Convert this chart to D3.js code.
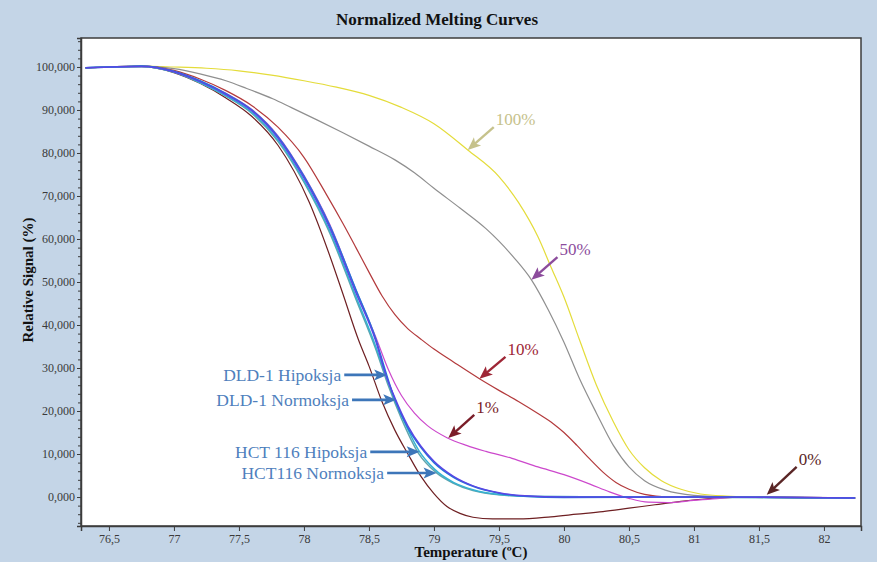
<!DOCTYPE html>
<html>
<head>
<meta charset="utf-8">
<script src="https://cdn.jsdelivr.net/npm/d3@7"></script>
<style>
  html, body { margin: 0; padding: 0; background: #c4d5e7; }
  svg { display: block; font-family: 'Liberation Serif', 'Times New Roman', serif; }
  .tick text { fill: #3a3a3a; font-size: 12px; }
  .axis path, .axis line { stroke: #3c3c3c; }
</style>
</head>
<body>
<svg id="chart" width="877" height="562"></svg>
<script>
// tick labels
const xTicks = [76.5, 77, 77.5, 78, 78.5, 79, 79.5, 80, 80.5, 81, 81.5, 82]
const yTicks = [0, 10, 20, 30, 40, 50, 60, 70, 80, 90, 100]

// series: [temperature, relative signal]
const curve100 = [[76.32,99.8],[76.5,100],[76.75,100.2],[77,100],[77.25,99.7],[77.5,99.1],[77.75,98.1],[78,96.8],[78.25,95.3],[78.5,93.4],[78.75,90.6],[79,86.8],[79.26,80.7],[79.5,74.5],[79.65,68.5],[79.8,60.5],[79.9,53.5],[80,46.5],[80.12,36.5],[80.25,26],[80.38,17.5],[80.5,11],[80.62,6.8],[80.75,3.8],[80.9,1.8],[81.05,0.7],[81.25,0.2],[81.5,0],[82.24,-0.3]]
const curve50 = [[76.32,99.8],[76.5,100],[76.75,100.2],[77,99.6],[77.2,98.4],[77.4,96.8],[77.56,95],[77.76,92.6],[77.9,90.6],[78.1,87.7],[78.3,84.7],[78.5,81.6],[78.7,78.4],[78.85,75.4],[79,71.8],[79.2,67.2],[79.4,62.4],[79.5,59.5],[79.62,55.5],[79.75,50.5],[79.88,43.5],[80,36],[80.12,27.5],[80.25,19.5],[80.38,12],[80.5,7],[80.62,3.8],[80.78,1.6],[81,0.4],[81.3,0],[82.24,-0.3]]
const curve10 = [[76.32,99.8],[76.5,100],[76.75,100.2],[77,99.2],[77.2,97.2],[77.4,94.5],[77.6,91],[77.8,86],[78,79],[78.17,70.5],[78.3,63.6],[78.4,58],[78.5,52.3],[78.6,46.8],[78.7,42.4],[78.8,39.1],[78.9,36.7],[79,34.4],[79.15,31.4],[79.35,27.5],[79.5,24.8],[79.65,22.2],[79.8,19.4],[79.92,17],[80,15],[80.1,12],[80.2,8.8],[80.3,5.8],[80.4,3.4],[80.5,1.8],[80.62,0.6],[80.8,0],[82.24,-0.2]]
const curve1 = [[76.32,99.8],[76.5,100],[76.75,100.2],[77,99],[77.2,96.8],[77.4,93.9],[77.6,90.1],[77.8,84],[78,74.8],[78.2,63.3],[78.4,48.2],[78.55,37.4],[78.65,29.6],[78.75,23.6],[78.85,19.5],[78.95,16.6],[79.1,13.8],[79.25,12],[79.4,10.6],[79.6,9],[79.8,7],[80,5.2],[80.2,3],[80.35,1.2],[80.5,-0.3],[80.65,-1.2],[80.8,-1.3],[81,-0.8],[81.2,-0.3],[81.4,0],[82.24,-0.2]]
const curve0 = [[76.32,99.8],[76.5,100],[76.75,100.1],[77,98.7],[77.2,96.2],[77.4,92.8],[77.6,88.5],[77.8,81.8],[78.04,68.6],[78.2,56],[78.3,47.2],[78.42,36.5],[78.5,30.5],[78.6,22.2],[78.7,15.5],[78.8,10],[78.9,4.8],[79,0.8],[79.1,-2.2],[79.2,-3.8],[79.3,-4.7],[79.45,-5.1],[79.65,-5.1],[79.9,-4.6],[80.1,-4],[80.3,-3.4],[80.5,-2.6],[80.7,-1.8],[80.9,-1],[81.1,-0.4],[81.3,-0.1],[81.6,0],[82.24,-0.2]]
const dldHipoksja = [[76.32,99.8],[76.5,100],[76.75,100.1],[77,98.9],[77.2,96.6],[77.4,93.6],[77.6,89.8],[77.8,83.5],[78,74.2],[78.2,62.5],[78.4,47.5],[78.55,36.5],[78.63,28.4],[78.7,23],[78.8,16.5],[78.9,11.8],[79,8.3],[79.15,4.8],[79.3,2.6],[79.5,1],[79.7,0.3],[80,0],[81,0],[82.24,-0.2]]
const dldNormoksja = [[76.32,99.8],[76.5,100],[76.75,100.2],[77,99],[77.2,96.8],[77.4,93.8],[77.6,90],[77.8,83.8],[78,74.6],[78.2,63],[78.4,48.2],[78.55,37],[78.63,29],[78.7,22.6],[78.8,16],[78.9,11.5],[79,8],[79.15,4.6],[79.3,2.5],[79.5,0.9],[79.7,0.2],[80,-0.1],[81,0],[82.24,-0.2]]
const hctHipoksja = [[76.32,99.8],[76.5,100],[76.75,100.1],[77,98.8],[77.2,96.4],[77.4,93.3],[77.6,89.4],[77.8,83],[78,73.6],[78.2,61.8],[78.4,46.6],[78.55,35.2],[78.65,26.5],[78.75,19],[78.89,10.5],[79,6.6],[79.15,3.4],[79.3,1.7],[79.5,0.6],[79.8,0.1],[80.5,0],[82.24,-0.2]]
const hctNormoksja = [[76.32,99.8],[76.5,100],[76.75,100.1],[77,98.8],[77.2,96.3],[77.4,93.2],[77.6,89.2],[77.8,82.7],[78,73.2],[78.2,61.3],[78.4,46],[78.55,34.6],[78.65,25.8],[78.75,18.2],[78.88,10.2],[79.02,5.6],[79.15,3.2],[79.3,1.5],[79.5,0.5],[79.8,0.1],[80.5,0],[82.24,-0.2]]

const seriesNames = ['100%', '50%', '10%', '0%', '1%', 'HCT116 Normoksja', 'HCT 116 Hipoksja', 'DLD-1 Normoksja', 'DLD-1 Hipoksja']
const seriesData = [curve100, curve50, curve10, curve0, curve1, hctNormoksja, hctHipoksja, dldNormoksja, dldHipoksja]
const seriesColors = ['#e4dc3a', '#8f8f8f', '#b33a3c', '#6e1f22', '#cc48cc', '#5fa4ac', '#36b2d2', '#1f78d8', '#5a46e4']

// annotation labels: text, arrow tail and arrow tip in data units
const pctLabels = ['100%', '50%', '10%', '1%', '0%']
const pctTail = [[79.46, 86.0], [79.95, 55.8], [79.55, 32.6], [79.31, 19.1], [81.79, 7.0]]
const pctTip = [[79.26, 80.7], [79.75, 50.5], [79.35, 27.5], [79.11, 13.7], [81.56, 0.5]]
const pctColors = ['#c6c28c', '#8c4c9c', '#9e2636', '#7a1d28', '#5a2626']

const cellLabels = ['DLD-1 Hipoksja', 'DLD-1 Normoksja', 'HCT 116 Hipoksja', 'HCT116 Normoksja']
const cellTail = [[78.31, 28.4], [78.37, 22.6], [78.51, 10.5], [78.64, 5.6]]
const cellTip = [[78.64, 28.4], [78.71, 22.6], [78.89, 10.5], [79.02, 5.6]]

const W = 877, H = 562
const margin = { top: 38, right: 16, bottom: 36, left: 81 }
const width = W - margin.left - margin.right
const height = H - margin.top - margin.bottom

const svg = d3.select('#chart')

svg.append('text')
  .attr('x', 437).attr('y', 25)
  .attr('text-anchor', 'middle')
  .attr('font-weight', 'bold').attr('font-size', 17).attr('fill', '#111')
  .text('Normalized Melting Curves')

const g = svg.append('g')
  .attr('transform', `translate(${margin.left},${margin.top})`)

g.append('rect')
  .attr('width', width).attr('height', height)
  .attr('fill', '#fff').attr('stroke', '#3c3c3c').attr('stroke-width', 1.5)

const x = d3.scaleLinear().domain([76.285, 82.285]).range([0, width])
const y = d3.scaleLinear().domain([-6.74, 106.74]).range([height, 0])

// x-axis
g.append('g')
    .attr('class', 'axis x-axis')
    .attr('transform', `translate(0,${height})`)
    .call(d3.axisBottom(x).tickValues(xTicks).tickSize(5).tickPadding(3)
      .tickFormat(d => String(d).replace('.', ',')))
    .attr('font-family', null)
  .call(a => a.select('.domain').attr('stroke-width', 1.5))

// y-axis minor ticks
const minor = d3.range(-6, 107, 2).filter(v => v % 10 !== 0)
g.append('g')
    .attr('class', 'axis')
    .call(d3.axisLeft(y).tickValues(minor).tickSize(3).tickFormat(''))
  .call(a => a.select('.domain').remove())

// y-axis
g.append('g')
    .attr('class', 'axis y-axis')
    .call(d3.axisLeft(y).tickValues(yTicks).tickSize(4).tickPadding(2)
      .tickFormat(d => d3.format('.3f')(d).replace('.', ',')))
    .attr('font-family', null)
  .call(a => a.select('.domain').attr('stroke-width', 1.5))

svg.append('text')
  .attr('x', 471).attr('y', 557)
  .attr('text-anchor', 'middle')
  .attr('font-weight', 'bold').attr('font-size', 15).attr('fill', '#111')
  .text('Temperature (ºC)')

svg.append('text')
  .attr('transform', 'translate(33,280) rotate(-90)')
  .attr('text-anchor', 'middle')
  .attr('font-weight', 'bold').attr('font-size', 15).attr('fill', '#111')
  .text('Relative Signal (%)')

// curves
const line = d3.line()
  .curve(d3.curveMonotoneX)
  .x(d => x(d[0]))
  .y(d => y(d[1]))

g.selectAll('path.curve')
  .data(seriesData)
  .join('path')
    .attr('class', 'curve')
    .attr('fill', 'none')
    .attr('stroke', (d, i) => seriesColors[i])
    .attr('stroke-width', (d, i) => i >= 5 ? 1.5 : 1.2)
    .attr('d', line)

// arrows
function arrow (sel, tail, tip, color, w) {
  const x1 = x(tail[0]), y1 = y(tail[1])
  const x2 = x(tip[0]), y2 = y(tip[1])
  const ang = Math.atan2(y2 - y1, x2 - x1) * 180 / Math.PI
  const len = Math.hypot(x2 - x1, y2 - y1)
  const a = sel.append('g')
    .attr('transform', `translate(${x1},${y1}) rotate(${ang})`)
  a.append('line')
    .attr('x1', 0).attr('y1', 0).attr('x2', len - 8).attr('y2', 0)
    .attr('stroke', color).attr('stroke-width', w)
  a.append('path')
    .attr('d', `M${len},0 L${len - 13},-5.5 L${len - 10},0 L${len - 13},5.5 Z`)
    .attr('fill', color)
}

pctLabels.forEach((lab, i) => {
  arrow(g, pctTail[i], pctTip[i], pctColors[i], 2.4)
  g.append('text')
    .attr('x', x(pctTail[i][0]) + 2)
    .attr('y', y(pctTail[i][1]) - 2)
    .attr('font-size', 17)
    .attr('fill', pctColors[i])
    .text(lab)
})

cellLabels.forEach((lab, i) => {
  arrow(g, cellTail[i], cellTip[i], '#3d76b9', 2.6)
  g.append('text')
    .attr('x', x(cellTail[i][0]) - 3)
    .attr('y', y(cellTail[i][1]) + 6)
    .attr('text-anchor', 'end')
    .attr('font-size', 17.5)
    .attr('fill', '#4f7fbd')
    .text(lab)
})
</script>
</body>
</html>
